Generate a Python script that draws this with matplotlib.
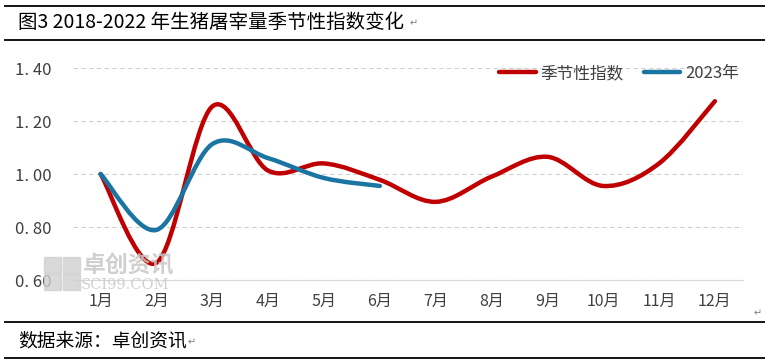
import matplotlib
matplotlib.use('Agg')
from matplotlib import pyplot as plt
from matplotlib.path import Path
from matplotlib.patches import PathPatch, Rectangle
from matplotlib.lines import Line2D

plt.rcParams['font.family'] = ['Noto Sans CJK SC', 'DejaVu Sans']

months = ['1月', '2月', '3月', '4月', '5月', '6月', '7月', '8月', '9月', '10月', '11月', '12月']
seasonal = [1.00, 0.665, 1.255, 1.013, 1.04, 0.978, 0.895, 0.99, 1.065, 0.955, 1.04, 1.275]
y2023 = [1.00, 0.789, 1.113, 1.06, 0.985, 0.955]
yticks = [0.60, 0.80, 1.00, 1.20, 1.40]
ytick_labels = ['0. 60', '0. 80', '1. 00', '1. 20', '1. 40']

title = '图3 2018-2022 年生猪屠宰量季节性指数变化'
source = '数据来源：卓创资讯'

RED = '#C00000'
BLUE = '#1B75A2'


def smooth_path(ys):
    # excel style smoothed line: cubic bezier through every point
    xs = list(range(len(ys)))
    pts = list(zip(xs, ys))
    verts = [pts[0]]
    codes = [Path.MOVETO]
    n = len(pts)
    for i in range(n - 1):
        p0 = pts[i - 1] if i > 0 else pts[i]
        p1 = pts[i]
        p2 = pts[i + 1]
        p3 = pts[i + 2] if i + 2 < n else pts[i + 1]
        c1 = (p1[0] + (p2[0] - p0[0]) / 6, p1[1] + (p2[1] - p0[1]) / 6)
        c2 = (p2[0] - (p3[0] - p1[0]) / 6, p2[1] - (p3[1] - p1[1]) / 6)
        verts += [c1, c2, p2]
        codes += [Path.CURVE4] * 3
    return Path(verts, codes)


fig = plt.figure(figsize=(7.65, 3.62), dpi=100)
ax = fig.add_axes([0.095, 0.2265, 0.876, 0.5855])

for ys, col in [(seasonal, RED), (y2023, BLUE)]:
    ax.add_patch(PathPatch(smooth_path(ys), fill=False, edgecolor=col, lw=3.2,
                           capstyle='round', joinstyle='round', zorder=3))

ax.set_xlim(-0.5, len(months) - 0.5)
ax.set_ylim(0.6, 1.4)
ax.set_xticks(range(len(months)))
ax.set_xticklabels(months, fontsize=11.5, color='#404040')
ax.set_yticks(yticks)
ax.set_yticklabels(ytick_labels, fontsize=12, color='#404040')
ax.tick_params(axis='x', length=0, pad=9)
ax.tick_params(axis='y', length=0, pad=15)
for s in ['top', 'right', 'left']:
    ax.spines[s].set_visible(False)
ax.spines['bottom'].set_color('#d9d9d9')
ax.grid(axis='y', color='#d0d0d0', linestyle=(0, (4, 3)), lw=0.8)
ax.set_axisbelow(True)

handles = [Line2D([], [], color=RED, lw=3.2, solid_capstyle='round'),
           Line2D([], [], color=BLUE, lw=3.2, solid_capstyle='round')]
leg = ax.legend(handles, ['季节性指数', '2023年'], loc='upper right', ncol=2, frameon=False,
                fontsize=12, handlelength=2.2, handletextpad=0.3, columnspacing=1.2,
                bbox_to_anchor=(1.017, 1.085))
for t in leg.get_texts():
    t.set_color('#404040')

# watermark
for (x, y, w, h) in [(0.057, 0.247, 0.023, 0.044), (0.082, 0.247, 0.023, 0.044),
                     (0.057, 0.199, 0.023, 0.044), (0.082, 0.199, 0.023, 0.044)]:
    fig.add_artist(Rectangle((x, y), w, h, transform=fig.transFigure,
                             color='#d0d0d0', alpha=0.8, zorder=1))
fig.text(0.108, 0.265, '卓创资讯', fontsize=16.5, color='#c8c8c8', fontweight='bold',
         va='center', ha='left', alpha=0.85)
fig.text(0.106, 0.212, 'SCI99.COM', fontsize=10.5, color='#c8c8c8', family='DejaVu Serif',
         va='center', ha='left', alpha=0.85)

# header / footer rules
for y in [0.983, 0.89, 0.11, 0.011]:
    fig.add_artist(Line2D([0.006, 1.0], [y, y], color='black', lw=1.3, transform=fig.transFigure))

fig.text(0.024, 0.937, title, fontsize=14, fontweight='medium', va='center', ha='left')
fig.text(0.535, 0.937, '↵', fontsize=7, color='#808080', va='center', ha='left')
fig.text(0.024, 0.058, source, fontsize=13.5, va='center', ha='left')
fig.text(0.245, 0.055, '↵', fontsize=7, color='#808080', va='center', ha='left')
fig.text(0.985, 0.135, '↵', fontsize=7, color='#808080', va='center', ha='left')

fig.savefig('out.png', dpi=100)
